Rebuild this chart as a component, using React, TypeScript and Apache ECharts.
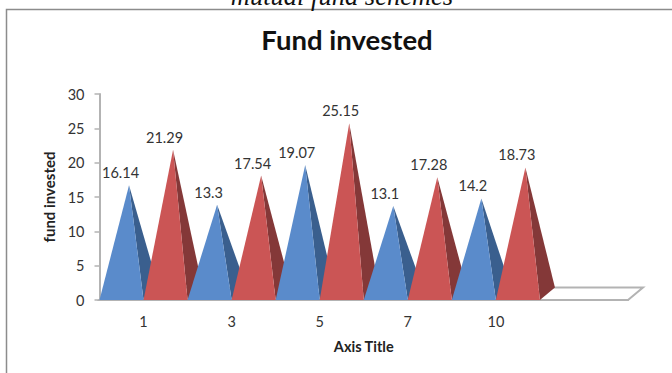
import React, { useEffect, useRef } from "react";
import * as echarts from "echarts";

const categories = ["1", "3", "5", "7", "10", ""];
const firstSeriesValues = [16.14, 13.3, 19.07, 13.1, 14.2];
const secondSeriesValues = [21.29, 17.54, 25.15, 17.28, 18.73];
const yTicks = { min: 0, max: 30, interval: 5 };

const FONT = "Lato, 'Open Sans', sans-serif";
const DEPTH_X = 15;
const DEPTH_Y = 12.5;

// One pyramid: a side face and a front face, with its value above the apex.
function pyramidRenderer(slot: number, front: string, side: string) {
  return (params: any, api: any) => {
    const cat = api.value(0);
    const value = api.value(1);
    const center = api.coord([cat, 0]);
    const top = api.coord([cat, value]);
    const half = api.size([1, 0])[0] / 2;
    const x0 = center[0] - half + slot * half;
    const x1 = x0 + half;
    const y0 = center[1];
    const apex = [(x0 + x1) / 2 + DEPTH_X / 2, top[1] - 4];
    const order = cat * 4 + slot * 2;
    return {
      type: "group",
      children: [
        {
          type: "polygon",
          z2: order,
          shape: { points: [[x1, y0], [x1 + DEPTH_X, y0 - DEPTH_Y], apex] },
          style: { fill: side },
        },
        {
          type: "polygon",
          z2: order + 1,
          shape: { points: [[x0, y0], [x1, y0], apex] },
          style: { fill: front },
        },
        {
          type: "text",
          z2: 100,
          style: {
            x: apex[0] - 8.5,
            y: apex[1] - 12.5,
            text: String(value),
            fill: "#333",
            font: `14.5px ${FONT}`,
            align: "center",
            verticalAlign: "middle",
          },
        },
      ],
    };
  };
}

// The chart floor, a thin parallelogram running the full width of the category axis.
function floorRenderer(params: any, api: any) {
  const left = api.coord([0, 0]);
  const half = api.size([1, 0])[0] / 2;
  const x0 = left[0] - half;
  const x1 = x0 + half * 2 * categories.length;
  const y = left[1];
  return {
    type: "polygon",
    z2: -10,
    shape: {
      points: [[x0, y], [x1, y], [x1 + DEPTH_X, y - DEPTH_Y], [x0 + DEPTH_X, y - DEPTH_Y]],
    },
    style: { fill: "#fff", stroke: "#b3b3b3", lineWidth: 2 },
  };
}

export default function App() {
  const ref = useRef<HTMLDivElement>(null);

  useEffect(() => {
    document.body.style.margin = "0";
    const chart = echarts.init(ref.current!, undefined, { renderer: "svg" });
    chart.setOption({
      animation: false,
      backgroundColor: "#fff",
      title: {
        text: "Fund invested",
        left: 342,
        top: 20,
        textAlign: "center",
        textStyle: { fontFamily: FONT, fontSize: 27.5, fontWeight: "bold", color: "#111" },
      },
      grid: { left: 99.5, right: 44, top: 94, bottom: 73 },
      xAxis: {
        type: "category",
        data: categories,
        name: "Axis Title",
        nameLocation: "middle",
        nameGap: 39,
        nameTextStyle: { fontFamily: FONT, fontSize: 14.5, fontWeight: "bold", color: "#222" },
        axisLine: { lineStyle: { color: "#b3b3b3", width: 2 } },
        axisTick: { show: false },
        axisLabel: { interval: 0, margin: 14, fontFamily: FONT, fontSize: 14.5, color: "#333" },
        splitLine: { show: false },
      },
      yAxis: {
        type: "value",
        ...yTicks,
        name: "fund invested",
        nameLocation: "middle",
        nameGap: 41,
        nameRotate: 90,
        nameTextStyle: { fontFamily: FONT, fontSize: 15, fontWeight: "bold", color: "#222" },
        axisLine: { show: true, lineStyle: { color: "#b3b3b3", width: 2 } },
        axisTick: { show: true, length: 5, lineStyle: { color: "#b3b3b3", width: 1.5 } },
        axisLabel: { margin: 15, fontFamily: FONT, fontSize: 14.5, color: "#333" },
        splitLine: { show: false },
      },
      graphic: [
        {
          type: "polyline",
          shape: { points: [[6.5, 373], [6.5, 9.5], [672, 9.5]] },
          style: { fill: "none", stroke: "#8c8c8c", lineWidth: 1.5 },
        },
        {
          type: "text",
          x: 342,
          y: 9,
          style: {
            text: "mutual fund schemes",
            font: "italic 26.5px 'Liberation Serif', serif",
            fill: "#111",
            align: "center",
            verticalAlign: "bottom",
          },
        },
      ],
      series: [
        {
          type: "custom",
          name: "Floor",
          silent: true,
          clip: false,
          data: [[0, 0]],
          renderItem: floorRenderer,
        },
        {
          type: "custom",
          name: "Series 1",
          clip: false,
          data: firstSeriesValues.map((v, i) => [i, v]),
          renderItem: pyramidRenderer(0, "#5A8BCB", "#3A5F8E"),
        },
        {
          type: "custom",
          name: "Series 2",
          clip: false,
          data: secondSeriesValues.map((v, i) => [i, v]),
          renderItem: pyramidRenderer(1, "#CB5555", "#843838"),
        },
      ],
    });
    return () => chart.dispose();
  }, []);

  return <div ref={ref} style={{ width: 672, height: 373 }} />;
}
